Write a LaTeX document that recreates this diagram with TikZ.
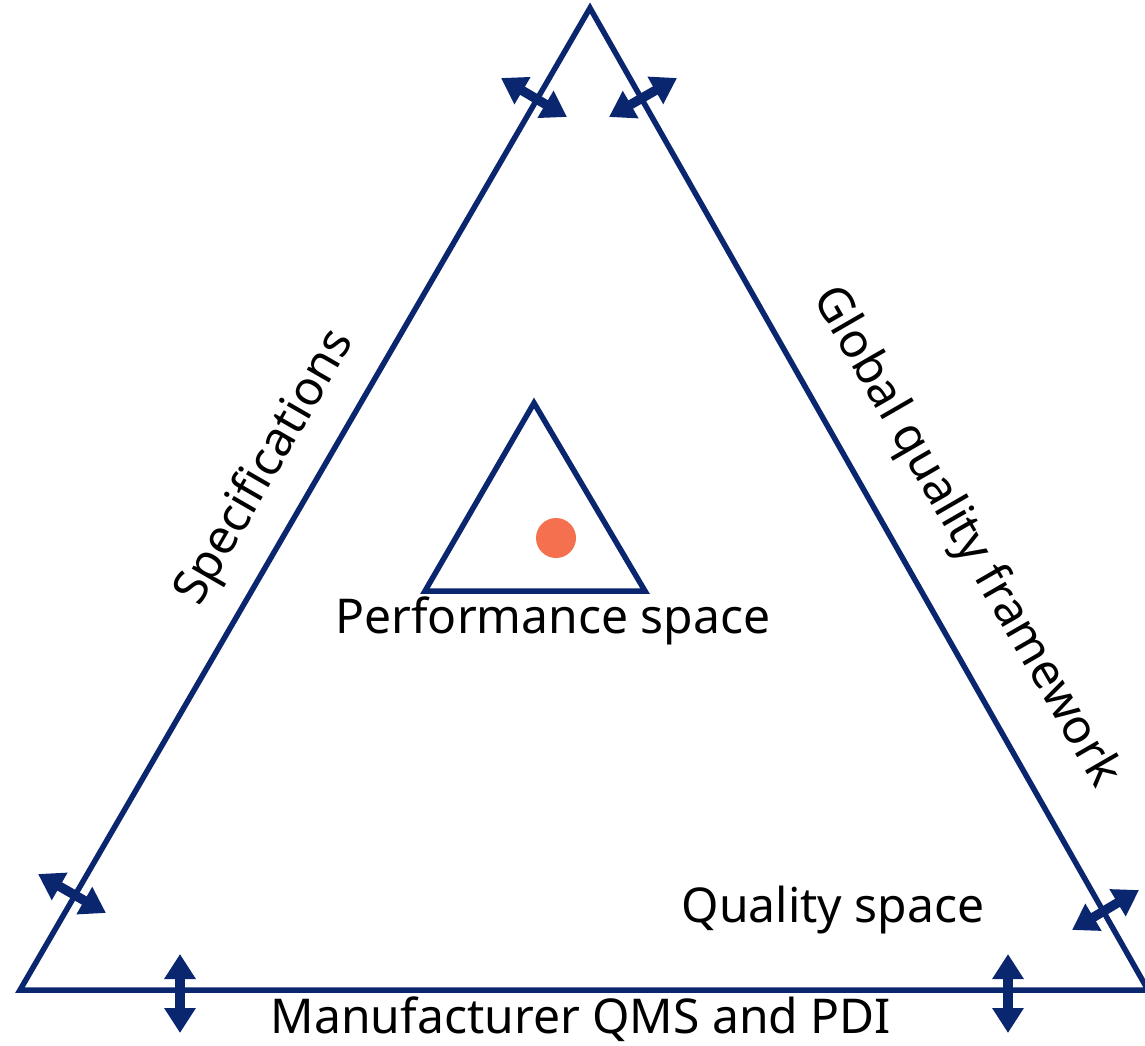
\documentclass[tikz,border=0pt]{standalone}
\usepackage{fontspec}
\setmainfont{Noto Sans}
\usetikzlibrary{arrows.meta}
\definecolor{navy}{RGB}{10,38,110}
\definecolor{coral}{RGB}{244,112,78}
\tikzset{
  edge/.style={draw=navy, line width=5.5pt, line join=miter},
  twoway/.style={draw=navy, line width=9.5pt,
    {Triangle[width=30pt,length=25pt]}-{Triangle[width=30pt,length=25pt]}},
  label/.style={font=\fontsize{48}{56}\selectfont, text=black, inner sep=0pt}
}
\begin{document}
\begin{tikzpicture}[x=1pt,y=-1pt]
  \useasboundingbox (0,0) rectangle (1145,1046);
  % outer quality triangle
  \coordinate (top) at (590,8);
  \coordinate (bl) at (20,990);
  \coordinate (br) at (1148,990);
  \draw[edge] (top) -- (bl) -- (br) -- cycle;
  % inner performance triangle
  \coordinate (itop) at (534,403);
  \coordinate (ibl) at (425,591);
  \coordinate (ibr) at (645,591);
  \draw[edge] (itop) -- (ibl) -- (ibr) -- cycle;
  \fill[coral] (556,538) circle (20pt);
  % double arrows across the edges
  \coordinate (a1) at (501,78);   \coordinate (a2) at (567,117);
  \coordinate (b1) at (677,78);   \coordinate (b2) at (609,117);
  \coordinate (c1) at (38,874);   \coordinate (c2) at (106,913);
  \coordinate (d1) at (180,954);  \coordinate (d2) at (180,1033);
  \coordinate (e1) at (1008,954); \coordinate (e2) at (1008,1033);
  \coordinate (f1) at (1072,930); \coordinate (f2) at (1139,890);
  \draw[twoway] (a1) -- (a2);
  \draw[twoway] (b1) -- (b2);
  \draw[twoway] (c1) -- (c2);
  \draw[twoway] (d1) -- (d2);
  \draw[twoway] (e1) -- (e2);
  \draw[twoway] (f1) -- (f2);
  % labels
  \node[label] (perf) at (553,621) {Performance space};
  \node[label] (qual) at (833,910) {Quality space};
  \node[label] (qms) at (581,1019) {Manufacturer QMS and PDI};
  \node[label, rotate=60] (spec) at (266,468) {Specifications};
  \node[label, rotate=-60] (glob) at (965,537) {Global quality framework};
\end{tikzpicture}
\end{document}
